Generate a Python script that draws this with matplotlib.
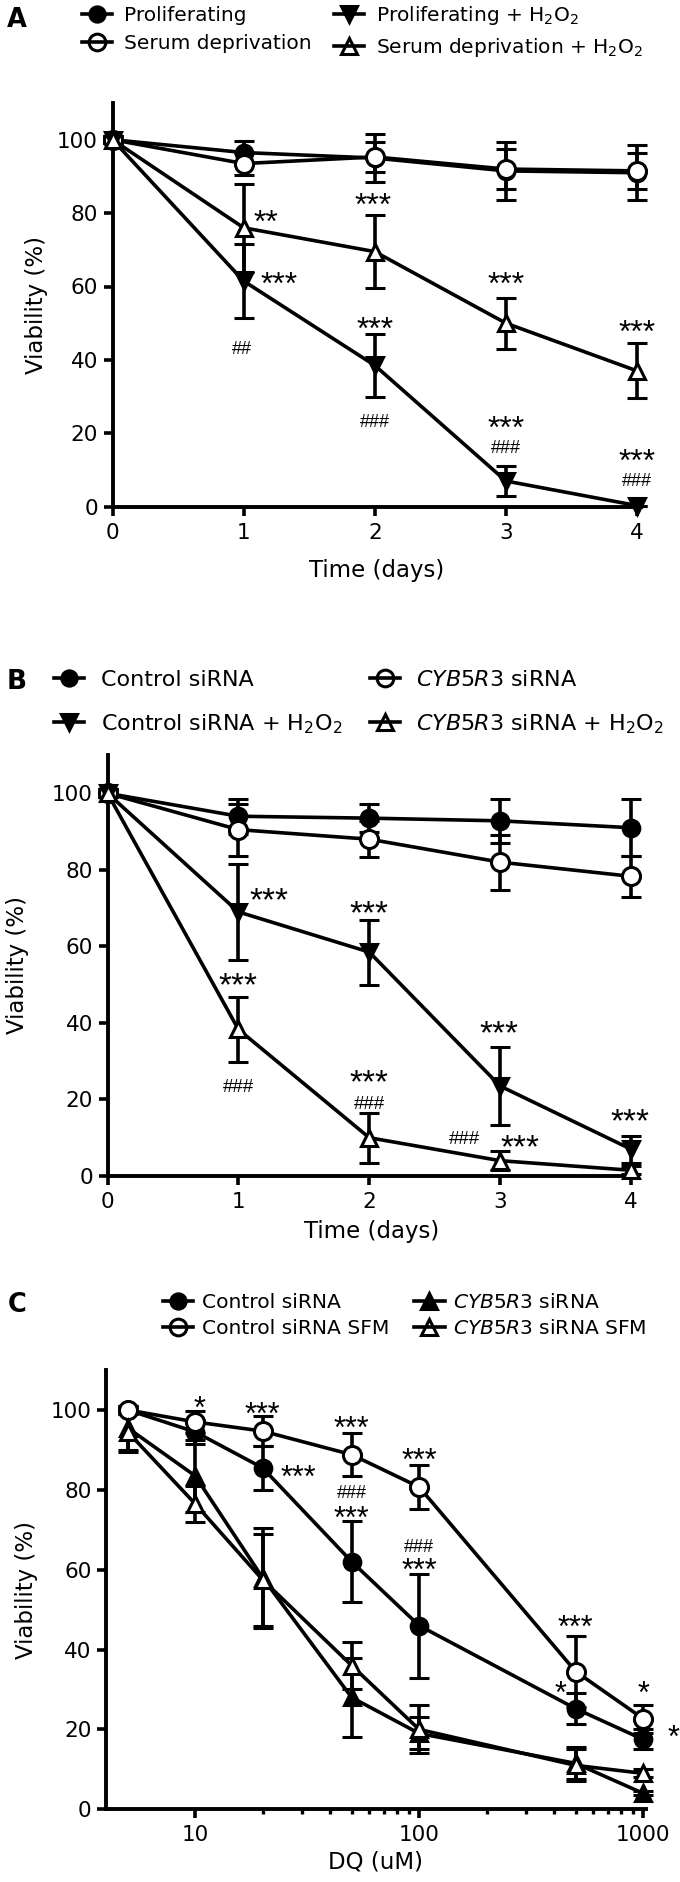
import numpy as np
import matplotlib
matplotlib.use("Agg")
import matplotlib.pyplot as plt
from matplotlib.lines import Line2D
from matplotlib.ticker import FixedLocator, NullFormatter

plt.rcParams['font.family'] = ['DejaVu Sans']
plt.rcParams['mathtext.fontset'] = 'dejavusans'

# ---- panel A data ----
days = [0, 1, 2, 3, 4]
prolif = [100, 96.5, 95.0, 91.5, 91.0]
prolif_err = [1, 3.2, 6.5, 8.0, 7.5]
serum = [100, 93.5, 95.3, 92.0, 91.5]
serum_err = [1, 3.0, 4.0, 5.5, 5.0]
prolif_h2o2 = [100, 61.5, 38.5, 7.0, 0.3]
prolif_h2o2_err = [1, 10.0, 8.5, 4.0, 0]
serum_h2o2 = [100, 76.0, 69.5, 50.0, 37.0]
serum_h2o2_err = [1, 12.0, 10.0, 7.0, 7.5]
a_sig_x = [1.17, 1.27, 0.99, 1.99, 2.0, 2.0, 3.0, 3.0, 3.0, 4.0, 4.0, 4.0]
a_sig_y = [80, 62.9, 43.4, 84.6, 50.7, 23.5, 62.9, 23.8, 16.4, 49.8, 14.8, 7.4]
a_sig_t = ['**', '***', '##', '***', '***', '###', '***', '***', '###', '***', '***', '###']

# ---- panel B data ----
ctrl = [100, 94.0, 93.5, 92.8, 91.0]
ctrl_err = [1, 4.6, 3.7, 5.8, 7.5]
cyb = [100, 90.5, 88.0, 82.0, 78.3]
cyb_err = [1, 6.8, 4.7, 7.2, 5.4]
ctrl_h2o2 = [100, 69.0, 58.5, 23.5, 7.0]
ctrl_h2o2_err = [1, 12.5, 8.5, 10.3, 3.5]
cyb_h2o2 = [100, 38.3, 10.0, 4.0, 1.5]
cyb_h2o2_err = [1, 8.6, 6.5, 2.5, 1.0]
b_sig_x = [1.23, 1.0, 1.0, 2.0, 2.0, 2.0, 2.99, 2.73, 3.15, 3.99]
b_sig_y = [74.4, 52.3, 23.6, 71.1, 27.0, 19.3, 39.8, 10.0, 10.0, 16.6]
b_sig_t = ['***', '***', '###', '***', '***', '###', '***', '###', '***', '***']

# ---- panel C data ----
dq = [5, 10, 20, 50, 100, 500, 1000]
c_ctrl = [100, 94.5, 85.5, 62.0, 46.0, 25.2, 17.5]
c_ctrl_err = [1, 3.0, 5.5, 10.2, 13.0, 3.8, 2.5]
c_ctrl_sfm = [100, 97.0, 94.7, 88.8, 80.7, 34.5, 22.7]
c_ctrl_sfm_err = [1, 2.8, 3.7, 5.3, 5.5, 8.8, 3.5]
c_cyb = [95.5, 83.5, 58.0, 28.0, 19.0, 11.5, 4.0]
c_cyb_err = [5.5, 9.0, 12.5, 10.0, 4.0, 4.0, 0.5]
c_cyb_sfm = [94.5, 76.5, 57.5, 36.0, 20.0, 11.0, 9.0]
c_cyb_sfm_err = [5.0, 4.5, 11.5, 6.0, 6.0, 4.0, 1.0]
c_sig_x = [10.5, 20, 29, 50, 50, 50, 100, 100, 100, 500, 428, 1000, 1360]
c_sig_y = [102.5, 101, 85.2, 97.3, 79.5, 74.8, 89.3, 66.0, 61.9, 47.5, 31.1, 31.1, 20.1]
c_sig_t = ['*', '***', '***', '***', '###', '***', '***', '###', '***', '***', '*', '*', '*']

H2O2 = 'H$_2$O$_2$'
CYB = r'$\mathit{CYB5R3}$'

fig = plt.figure(figsize=(6.8, 18.82), dpi=100)
W, H = 680.0, 1882.0


def add_axes(left, top, right, bottom):
    return fig.add_axes([left / W, 1 - bottom / H, (right - left) / W, (bottom - top) / H])


def series(ax, x, y, e, marker, filled, ms=12):
    c = ax.errorbar(x, y, yerr=e, color='k', marker=marker, ms=ms,
                    mfc='k' if filled else 'white', mec='k', mew=2.2,
                    lw=2.6, elinewidth=2.6, capsize=7.5, capthick=2.6, zorder=3)
    for a in c.get_children():
        a.set_clip_on(False)
    c[0].set_clip_on(False)
    return Line2D([], [], color='k', marker=marker, ms=ms - 1,
                  mfc='k' if filled else 'none', mec='k', mew=2.2, lw=2.6)


def style(ax, fs):
    for s in ['top', 'right']:
        ax.spines[s].set_visible(False)
    for s in ['left', 'bottom']:
        ax.spines[s].set_linewidth(2.8)
    ax.tick_params(which='major', direction='out', length=6.5, width=2.6,
                   labelsize=fs, pad=4)
    ax.tick_params(axis='x', which='major', pad=5)
    ax.set_yticks([0, 20, 40, 60, 80, 100])
    ax.set_ylim(0, 110)


def marks(ax, xs, ys, ts, fs_star=23, fs_hash=13):
    for x, y, t in zip(xs, ys, ts):
        if t[0] == '*':
            fs, k = fs_star, 0.575
        else:
            fs, k = fs_hash, 0.35
        ax.annotate(t, (x, y), xytext=(0, -k * fs), textcoords='offset points',
                    ha='center', va='baseline', fontsize=fs, family='Liberation Sans',
                    annotation_clip=False)


def legend(handles, labels, left, top, fs, hl, tp, cs, ls):
    fig.legend(handles, labels, ncol=2, loc='upper left',
               bbox_to_anchor=(left / W, 1 - top / H), frameon=False, borderpad=0,
               handlelength=hl, handletextpad=tp, columnspacing=cs,
               labelspacing=ls, fontsize=fs, borderaxespad=0)


# ---------------- A ----------------
axA = add_axes(112.5, 103, 641, 506.7)
style(axA, 15.5)
hA = [series(axA, days, prolif, prolif_err, 'o', True),
      series(axA, days, serum, serum_err, 'o', False, 13),
      series(axA, days, prolif_h2o2, prolif_h2o2_err, 'v', True),
      series(axA, days, serum_h2o2, serum_h2o2_err, '^', False)]
axA.set_xlim(0, 4.03)
axA.set_xticks(days)
marks(axA, a_sig_x, a_sig_y, a_sig_t)
axA.set_xlabel('Time (days)', fontsize=16.5, va='center')
axA.xaxis.set_label_coords(0.5, -0.157)
axA.set_ylabel('Viability (%)', fontsize=16.5, va='center')
axA.yaxis.set_label_coords(-0.143, 0.5)
legend(hA, ['Proliferating', 'Serum deprivation', 'Proliferating + ' + H2O2,
            'Serum deprivation + ' + H2O2],
       82, 4, 14.5, 1.5, 0.6, 1.1, 0.45)
fig.text(17 / W, 1 - 20 / H, 'A', fontsize=18.5, fontweight='bold', ha='center', va='center')

# ---------------- B ----------------
axB = add_axes(107.5, 755, 635, 1176)
style(axB, 15.5)
hB = [series(axB, days, ctrl, ctrl_err, 'o', True),
      series(axB, days, cyb, cyb_err, 'o', False, 13),
      series(axB, days, ctrl_h2o2, ctrl_h2o2_err, 'v', True),
      series(axB, days, cyb_h2o2, cyb_h2o2_err, '^', False)]
axB.set_xlim(0, 4.03)
axB.set_xticks(days)
marks(axB, b_sig_x, b_sig_y, b_sig_t, 24, 13.5)
axB.set_xlabel('Time (days)', fontsize=16.5, va='center')
axB.xaxis.set_label_coords(0.5, -0.133)
axB.set_ylabel('Viability (%)', fontsize=16.5, va='center')
axB.yaxis.set_label_coords(-0.17, 0.5)
legend([hB[0], hB[2], hB[1], hB[3]],
       ['Control siRNA', 'Control siRNA + ' + H2O2, CYB + ' siRNA',
        CYB + ' siRNA + ' + H2O2],
       54, 670, 16, 1.35, 0.75, 1.25, 1.0)
fig.text(17 / W, 1 - 682 / H, 'B', fontsize=19, fontweight='bold', ha='center', va='center')

# ---------------- C ----------------
axC = add_axes(106, 1370, 646, 1809.3)
style(axC, 15.5)
hC = [series(axC, dq, c_ctrl, c_ctrl_err, 'o', True),
      series(axC, dq, c_ctrl_sfm, c_ctrl_sfm_err, 'o', False, 13),
      series(axC, dq, c_cyb, c_cyb_err, '^', True),
      series(axC, dq, c_cyb_sfm, c_cyb_sfm_err, '^', False)]
axC.set_xscale('log')
axC.set_xlim(4, 1030)
axC.xaxis.set_major_locator(FixedLocator([10, 100, 1000]))
axC.set_xticklabels(['10', '100', '1000'])
axC.xaxis.set_minor_locator(FixedLocator([20, 30, 40, 50, 60, 70, 80, 90,
                                          200, 300, 400, 500, 600, 700, 800, 900]))
axC.xaxis.set_minor_formatter(NullFormatter())
axC.tick_params(axis='x', which='minor', direction='out', length=3.5, width=2.4)
marks(axC, c_sig_x, c_sig_y, c_sig_t, 22, 13)
axC.set_xlabel('DQ (uM)', fontsize=16.5, va='center')
axC.xaxis.set_label_coords(0.5, -0.119)
axC.set_ylabel('Viability (%)', fontsize=16.5, va='center')
axC.yaxis.set_label_coords(-0.148, 0.5)
legend(hC, ['Control siRNA', 'Control siRNA SFM', CYB + ' siRNA', CYB + ' siRNA SFM'],
       163, 1293, 14.6, 1.5, 0.4, 1.25, 0.35)
fig.text(17 / W, 1 - 1305 / H, 'C', fontsize=18.5, fontweight='bold', ha='center', va='center')

fig.savefig('out.png', dpi=100)
